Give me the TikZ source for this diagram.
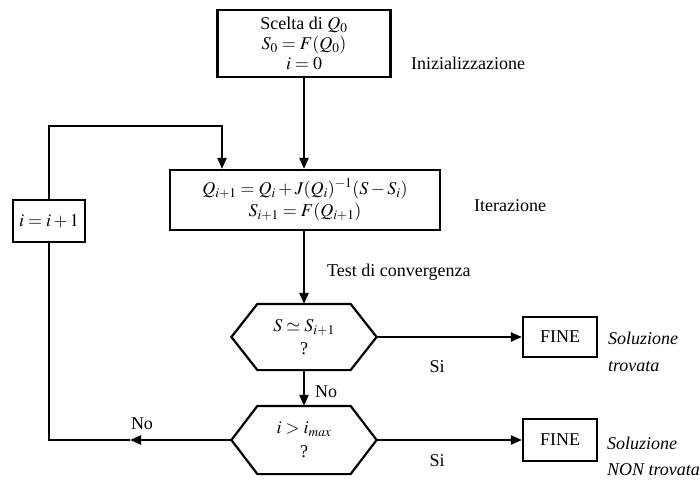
\documentclass[tikz,border=0pt]{standalone}
\usepackage{mathptmx}
\usepackage{fontspec}
\setmainfont{Liberation Serif}
\usetikzlibrary{arrows.meta,calc}
\begin{document}
\begin{tikzpicture}[x=1pt,y=-1pt,
  line width=2.2pt,
  every node/.style={font=\fontsize{18}{21}\selectfont},
  box/.style={draw,line width=2.2pt,inner sep=0pt,align=center},
  hexa/.style={inner sep=0pt,align=center,minimum width=143pt,minimum height=64pt},
  lbl/.style={anchor=west,inner sep=0pt},
  itl/.style={anchor=west,inner sep=0pt,font=\fontsize{18}{21}\selectfont\itshape},
  arr/.style={-{Triangle[length=11pt,width=9pt]}},
  hexpath/.style={line width=2.2pt,line join=miter}
]
\useasboundingbox (0,0) rectangle (700,484);
% nodes
\node[box,minimum width=173pt,minimum height=67pt] (init) at (304,43.5)
  {Scelta di $Q_0$\\[-1pt] $S_0=F(Q_0)$\\[-1pt] $i=0$};
\node[lbl] (iniz) at (410,63) {Inizializzazione};
\node[box,minimum width=270pt,minimum height=60pt] (iter) at (305,200)
  {$Q_{i+1}=Q_i+J(Q_i)^{-1}(S-S_i)$\\[1pt] $S_{i+1}=F(Q_{i+1})$};
\node[lbl] (iterl) at (473,206) {Iterazione};
\node[box,minimum width=72pt,minimum height=42pt] (ibox) at (49,221) {$i=i+1$};
\node[lbl] (test) at (326,272) {Test di convergenza};
\node[hexa] (h1) at (304,337) {$S\simeq S_{i+1}$\\[2pt] ?};
\node[hexa,minimum height=66pt] (h2) at (304,440) {$i>i_{max}$\\[3pt] ?};
\node[box,minimum width=74pt,minimum height=40pt] (fine1) at (560,337) {FINE};
\node[box,minimum width=74pt,minimum height=42pt] (fine2) at (560,440) {FINE};
\node[itl] (sol1) at (607,338) {Soluzione};
\node[itl] (trov1) at (607,367) {trovata};
\node[itl] (sol2) at (606,443) {Soluzione};
\node[itl] (trov2) at (606,470) {NON trovata};
\node (si1) at (437,367) {Si};
\node (si2) at (437,461) {Si};
\node (no1) at (326,392) {No};
\node (no2) at (142,424) {No};
% hexagons
\draw[hexpath] (h1.west) -- ($(h1.north west)+(26,0)$) -- ($(h1.north east)+(-26,0)$) -- (h1.east)
  -- ($(h1.south east)+(-26,0)$) -- ($(h1.south west)+(26,0)$) -- cycle;
\draw[hexpath] (h2.west) -- ($(h2.north west)+(26,0)$) -- ($(h2.north east)+(-26,0)$) -- (h2.east)
  -- ($(h2.south east)+(-26,0)$) -- ($(h2.south west)+(26,0)$) -- cycle;
% connectors
\draw[arr] (init.south) -- (init.south |- iter.north);
\coordinate (lt) at (222,126);
\draw[arr] (ibox.north) |- (lt) -- (lt |- iter.north);
\draw[arr] (iter.south -| h1.north) -- (h1.north);
\draw[arr] (h1.east) -- (fine1.west);
\draw[arr] (h1.south) -- (h2.north);
\draw[arr] (h2.east) -- (fine2.west);
\coordinate (na) at (130,440);
\coordinate (lb) at (49,440);
\draw[arr] (h2.west) -- (na);
\draw (na) -- (lb) -- (ibox.south);
\end{tikzpicture}
\end{document}
